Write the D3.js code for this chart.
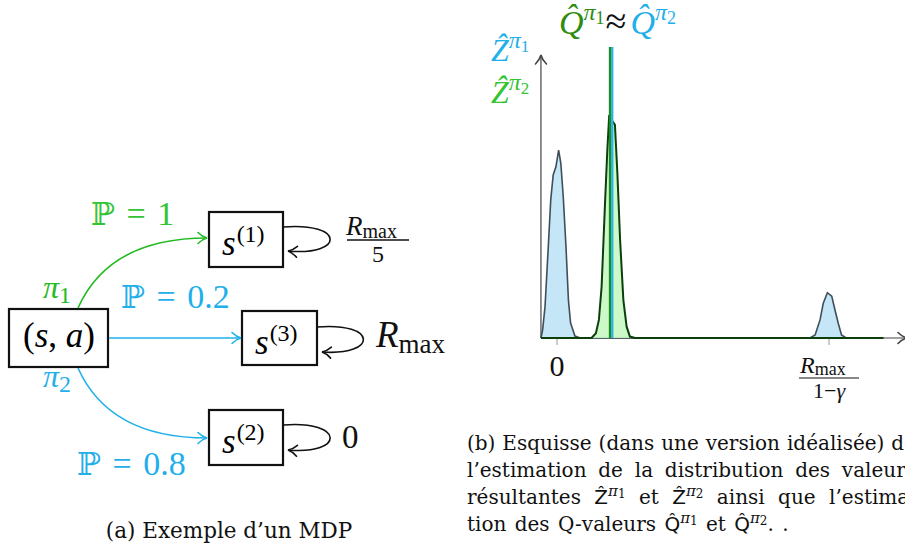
<!DOCTYPE html>
<html>
<head>
<meta charset="utf-8">
<script src="https://cdn.jsdelivr.net/npm/d3@7"></script>
<style>
  body { margin: 0; background: #fff; }
  svg { display: block; }
</style>
</head>
<body>
<svg></svg>
<script>
// ---- data ----
// x in units of Rmax/(1-gamma), y = density (arbitrary units)
var blueX = [-0.059, -0.053, -0.044, -0.032, -0.023, -0.014, -0.004, 0.006, 0.014, 0.023, 0.033, 0.042, 0.050, 0.066, 0.085,
             0.930, 0.949, 0.967, 0.979, 0.994, 1.010, 1.022, 1.034, 1.046, 1.063, 1.200];
var blueY = [0, 0.028, 0.111, 0.323, 0.488, 0.576, 0.605, 0.664, 0.618, 0.499, 0.323, 0.134, 0.053, 0.007, 0,
             0, 0.011, 0.064, 0.123, 0.160, 0.148, 0.099, 0.052, 0.011, 0, 0];
var greenX = [-0.059, 0.127, 0.143, 0.154, 0.164, 0.176, 0.185, 0.192, 0.201, 0.213, 0.222, 0.232, 0.244, 0.256, 0.268, 0.287, 1.200];
var greenY = [0, 0, 0.017, 0.064, 0.181, 0.464, 0.664, 0.788, 0.770, 0.753, 0.582, 0.346, 0.134, 0.040, 0.005, 0, 0];
var qValues = [0.195, 0.203];          // Q^pi1, Q^pi2
var xTicks = [0, 1];                   // 0 and Rmax/(1-gamma)

// MDP example
var nodeNames = ["(1)", "(3)", "(2)"];
var edgeProbs = ["1", "0.2", "0.8"];
var loopRewards = ["Rmax/5", "Rmax", "0"];

var width = 905, height = 552;
var green = "#33c433", blue = "#1fb0ea", qGreen = "#2f8c0f";
var serif = "'Liberation Serif', 'DejaVu Serif', serif";
var textFont = "'DejaVu Serif', serif";

var svg = d3.select("svg").attr("width", width).attr("height", height);

// arrow heads (LaTeX "to" style)
var defs = svg.append("defs");
[["blk", "#111"], ["gry", "#444"], ["grn", "#22bb22"], ["blu", blue]].forEach(function(m) {
  defs.append("marker")
    .attr("id", "arr-" + m[0])
    .attr("viewBox", "-11 -7 13 14")
    .attr("markerUnits", "userSpaceOnUse")
    .attr("markerWidth", 13).attr("markerHeight", 14)
    .attr("refX", 0).attr("refY", 0)
    .attr("orient", "auto")
    .append("path")
      .attr("d", "M-9,-5.5 C-6,-2.5 -2.5,-0.6 0,0 C-2.5,0.6 -6,2.5 -9,5.5")
      .attr("fill", "none").attr("stroke", m[1])
      .attr("stroke-width", 1.6).attr("stroke-linecap", "round");
});

// helper: text made of runs
function runs(parent, x, y, list, attrs) {
  var t = parent.append("text").attr("x", x).attr("y", y)
    .style("font-family", serif);
  if (attrs) Object.keys(attrs).forEach(function(k) { t.attr(k, attrs[k]); });
  list.forEach(function(r) {
    var s = t.append("tspan").text(r.t);
    if (r.size) s.style("font-size", r.size + "px");
    if (r.it) s.style("font-style", "italic");
    if (r.dy) s.attr("dy", r.dy);
    if (r.dx) s.attr("dx", r.dx);
    if (r.fill) s.attr("fill", r.fill);
    if (r.font) s.style("font-family", r.font);
  });
  return t;
}

// ================= (a) MDP =================
var mdp = svg.append("g");
var boxes = [
  {x: 9, y: 309, w: 99, h: 58},
  {x: 209, y: 212, w: 74, h: 55},
  {x: 242, y: 311, w: 75, h: 54},
  {x: 209, y: 410, w: 74, h: 55}
];
mdp.selectAll("rect").data(boxes).enter().append("rect")
  .attr("x", d => d.x).attr("y", d => d.y)
  .attr("width", d => d.w).attr("height", d => d.h)
  .attr("fill", "none").attr("stroke", "#111").attr("stroke-width", 2.2);

runs(mdp, 23, 347, [
  {t: "(", size: 35}, {t: "s", size: 35, it: 1}, {t: ",", size: 35}, {t: " a", size: 35, it: 1}, {t: ")", size: 35}
]);

nodeNames.forEach(function(n, i) {
  var b = boxes[i + 1];
  runs(mdp, b.x + 13, b.y + 43, [
    {t: "s", size: 35, it: 1},
    {t: n, size: 24, dy: -13, dx: 1}
  ]);
});

// edges
var edges = [
  {d: "M78,308 C95,270 130,238 207,238", c: "#22bb22", m: "grn"},
  {d: "M109,338 L241,338", c: blue, m: "blu"},
  {d: "M78,368 C95,406 130,438 207,438", c: blue, m: "blu"}
];
mdp.selectAll("path.edge").data(edges).enter().append("path")
  .attr("class", "edge")
  .attr("d", d => d.d).attr("fill", "none")
  .attr("stroke", d => d.c).attr("stroke-width", 1.6)
  .attr("marker-end", d => "url(#arr-" + d.m + ")");

// self loops
var loops = ["M283,227 C345,222 345,256 288,251",
             "M317,327 C378,322 378,356 322,352",
             "M283,425 C345,420 345,455 288,450"];
mdp.selectAll("path.loop").data(loops).enter().append("path")
  .attr("class", "loop").attr("d", d => d).attr("fill", "none")
  .attr("stroke", "#111").attr("stroke-width", 1.6)
  .attr("marker-end", "url(#arr-blk)");

// probabilities
var probPos = [[91, 225, green], [121, 308, blue], [77, 475, blue]];
edgeProbs.forEach(function(p, i) {
  runs(mdp, probPos[i][0], probPos[i][1], [
    {t: "\u2119", size: 32, font: "'DejaVu Serif', serif"},
    {t: " = " + p, size: 34}
  ], {fill: probPos[i][2]}).style("word-spacing", "3px");
});

// policies
runs(mdp, 43, 298, [{t: "\u03c0", size: 32, it: 1}, {t: "1", size: 24, dy: 5}], {fill: "#22bb22"});
runs(mdp, 43, 387, [{t: "\u03c0", size: 32, it: 1}, {t: "2", size: 24, dy: 5}], {fill: blue});

// rewards
runs(mdp, 346, 235, [{t: "R", size: 27, it: 1}, {t: "max", size: 20, dy: 3}], {fill: "#111"});
mdp.append("line").attr("x1", 347).attr("x2", 409).attr("y1", 240).attr("y2", 240)
  .attr("stroke", "#111").attr("stroke-width", 1.3);
runs(mdp, 378, 262, [{t: "5", size: 24}], {"text-anchor": "middle", fill: "#111"});
runs(mdp, 376, 347, [{t: "R", size: 37, it: 1}, {t: "max", size: 27, dy: 6}], {fill: "#111"});
runs(mdp, 342, 448, [{t: loopRewards[2], size: 33}], {fill: "#111"});

// caption (a)
svg.append("text").attr("x", 229).attr("y", 538)
  .attr("text-anchor", "middle")
  .style("font-family", textFont).style("font-size", "21.5px")
  .attr("fill", "#111")
  .text("(a) Exemple d\u2019un MDP");

// ================= (b) distributions =================
var x = d3.scaleLinear().domain([0, 1]).range([557, 829]);
var y = d3.scaleLinear().domain([0, 1]).range([338, 55]);

var plot = svg.append("g");
var blueData = blueX.map((v, i) => ({x: v, y: blueY[i]}));
var greenData = greenX.map((v, i) => ({x: v, y: greenY[i]}));

var area = d3.area().x(d => x(d.x)).y0(y(0)).y1(d => y(d.y));
var line = d3.line().x(d => x(d.x)).y(d => y(d.y));

// ticks
plot.selectAll("line.tick").data(xTicks).enter().append("line")
  .attr("x1", d => x(d)).attr("x2", d => x(d))
  .attr("y1", y(0)).attr("y2", y(0) + 7)
  .attr("stroke", "#999").attr("stroke-width", 1);

// axes
plot.append("line").attr("x1", x(-0.059)).attr("x2", x(-0.059))
  .attr("y1", y(0)).attr("y2", y(1))
  .attr("stroke", "#444").attr("stroke-width", 1.2)
  .attr("marker-end", "url(#arr-gry)");
plot.append("line").attr("x1", x(-0.059)).attr("x2", 907)
  .attr("y1", y(0)).attr("y2", y(0))
  .attr("stroke", "#444").attr("stroke-width", 1.2)
  .attr("marker-end", "url(#arr-gry)");

plot.append("path").datum(blueData).attr("d", area)
  .attr("fill", "#c4e6f7");
plot.append("path").datum(blueData).attr("d", line)
  .attr("fill", "none").attr("stroke", "#3e4f5a").attr("stroke-width", 1.6);
plot.append("path").datum(greenData).attr("d", area)
  .attr("fill", "#c8f7c2").attr("fill-opacity", 0.9);
plot.append("path").datum(greenData).attr("d", line)
  .attr("fill", "none").attr("stroke", "#0c3f0c").attr("stroke-width", 2);

// Q values
var qColors = ["#1e8c1e", "#2bb4e6"];
plot.selectAll("line.q").data(qValues).enter().append("line")
  .attr("x1", d => x(d)).attr("x2", d => x(d))
  .attr("y1", y(0)).attr("y2", y(1.028))
  .attr("stroke", (d, i) => qColors[i]).attr("stroke-width", 2.4);

// tick labels
runs(plot, x(xTicks[0]), 376, [{t: "0", size: 30}], {"text-anchor": "middle", fill: "#111"});
runs(plot, x(xTicks[1]) - 29, 373, [{t: "R", size: 24, it: 1}, {t: "max", size: 18, dy: 2}], {fill: "#111"});
plot.append("line").attr("x1", x(1) - 30).attr("x2", x(1) + 30)
  .attr("y1", 378).attr("y2", 378).attr("stroke", "#111").attr("stroke-width", 1);
runs(plot, x(xTicks[1]), 398, [{t: "1\u2212", size: 22}, {t: "\u03b3", size: 22, it: 1}], {"text-anchor": "middle", fill: "#111"});

// labels
runs(plot, 491, 61, [{t: "\u1e90", size: 32, it: 1}, {t: "\u03c0", size: 24, it: 1, dy: -13}, {t: "1", size: 17, dy: 4}], {fill: blue});
runs(plot, 491, 103, [{t: "\u1e90", size: 32, it: 1}, {t: "\u03c0", size: 24, it: 1, dy: -13}, {t: "2", size: 17, dy: 4}], {fill: green});
runs(plot, 559, 34, [
  {t: "Q\u0302", size: 34, it: 1, fill: qGreen},
  {t: "\u03c0", size: 24, it: 1, dy: -14, fill: qGreen},
  {t: "1", size: 18, dy: 4, fill: qGreen},
  {t: "\u2248", size: 38, dy: 10, dx: 1, fill: "#111"},
  {t: "Q\u0302", size: 34, it: 1, fill: blue, dx: 4},
  {t: "\u03c0", size: 24, it: 1, dy: -14, fill: blue},
  {t: "2", size: 18, dy: 4, fill: blue}
]);

// caption (b), justified to the column width (clipped on the right like the source)
var sans = "'DejaVu Sans', sans-serif";
var capLines = [
  [{t: "(b) Esquisse (dans une version id\u00e9alis\u00e9e) de"}],
  [{t: "l\u2019estimation de la distribution des valeurs"}],
  [{t: "r\u00e9sultantes "}, {t: "\u1e90", font: sans}, {t: "\u03c0", size: 15, it: 1, dy: -8}, {t: "1", size: 12, dy: 2},
   {t: " et ", dy: 6}, {t: "\u1e90", font: sans}, {t: "\u03c0", size: 15, it: 1, dy: -8}, {t: "2", size: 12, dy: 2},
   {t: " ainsi que l\u2019estima-", dy: 6}],
  [{t: "tion des Q-valeurs "}, {t: "Q\u0302", font: sans}, {t: "\u03c0", size: 15, it: 1, dy: -8}, {t: "1", size: 12, dy: 2},
   {t: " et ", dy: 6}, {t: "Q\u0302", font: sans}, {t: "\u03c0", size: 15, it: 1, dy: -8}, {t: "2", size: 12, dy: 2},
   {t: ". .", dy: 6}]
];
capLines.forEach(function(l, i) {
  var t = runs(svg, 467, 450 + 27 * i, l, {fill: "#111"})
    .style("font-family", textFont).style("font-size", "20px");
  if (i < 3) {
    var w = t.node().getComputedTextLength();
    var n = l.map(r => r.t).join("").split(" ").length - 1;
    t.style("word-spacing", ((449 - w) / n) + "px");
  } else {
    t.style("word-spacing", "2px");
  }
});
</script>
</body>
</html>
